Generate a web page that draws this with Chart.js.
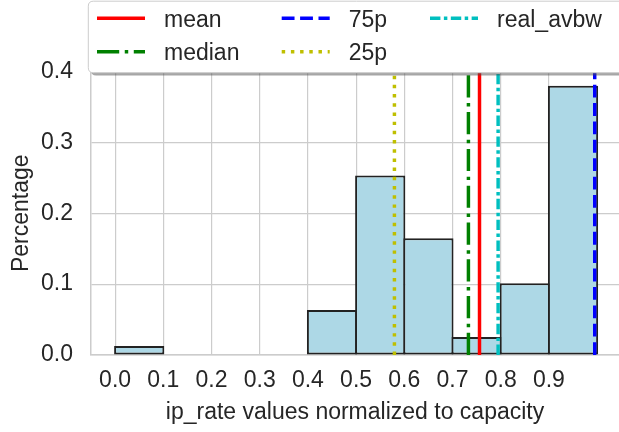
<!DOCTYPE html>
<html>
<head>
<meta charset="utf-8">
<script src="https://cdn.jsdelivr.net/npm/chart.js@4/dist/chart.umd.min.js"></script>
<style>
  html, body { margin: 0; padding: 0; background: #ffffff; }
  canvas { display: block; }
</style>
</head>
<body>
<canvas id="hist" width="619" height="432"></canvas>
<script>
// Histogram of ip_rate normalized to capacity (share of samples per bin)
const binEdges = [0.0, 0.1, 0.2, 0.3, 0.4, 0.5, 0.6, 0.7, 0.8, 0.9, 1.0];
const binShares = [0.0127, 0.0, 0.0, 0.0, 0.0633, 0.2532, 0.1646, 0.0253, 0.1013, 0.3797];

// Summary statistics drawn as vertical reference lines
const markerNames = ['mean', 'median', '75p', '25p', 'real_avbw'];
const markerValues = [0.756, 0.733, 0.995, 0.5795, 0.7946];

// Axis ticks
const xTickValues = [0.0, 0.1, 0.2, 0.3, 0.4, 0.5, 0.6, 0.7, 0.8, 0.9];
const yTickValues = [0.0, 0.1, 0.2, 0.3, 0.4];

// ---- styling ----
const LW = 3.47;
const markerStyle = {
  mean:      { color: '#ff0000', dash: [] },
  median:    { color: '#008000', dash: [6.4 * LW, 1.6 * LW, 1 * LW, 1.6 * LW] },
  '75p':     { color: '#0000ff', dash: [3.7 * LW, 1.6 * LW] },
  '25p':     { color: '#bfbf00', dash: [1 * LW, 1.65 * LW] },
  real_avbw: { color: '#00bfbf', dash: [3 * LW, 1 * LW, 1 * LW, 1 * LW] }
};
const TEXT = '#262626';
const GRID = '#cccccc';
const FONT = { family: '"Liberation Sans", Arial, Helvetica, sans-serif', size: 23 };

const Y_TOP = 0.4;

const barData = binShares.map((v, i) => ({ x: (binEdges[i] + binEdges[i + 1]) / 2, y: v }));

const lineSets = markerNames.map((name, i) => ({
  type: 'line',
  label: name,
  data: [{ x: markerValues[i], y: 0 }, { x: markerValues[i], y: Y_TOP }],
  borderColor: markerStyle[name].color,
  borderDash: markerStyle[name].dash,
  borderWidth: LW,
  borderCapStyle: 'butt',
  pointRadius: 0,
  fill: false,
  tension: 0,
  order: 1
}));

// Legend laid out column-major in a rounded, shadowed box
const boxLegend = {
  id: 'boxLegend',
  afterDraw(chart, args, opts) {
    const ctx = chart.ctx;
    const items = chart.data.datasets.filter(d => d.type === 'line');
    const { x, y, w, h, r } = opts.box;
    const rr = (ox, oy) => {
      ctx.beginPath();
      ctx.moveTo(ox + r, oy);
      ctx.lineTo(ox + w - r, oy);
      ctx.quadraticCurveTo(ox + w, oy, ox + w, oy + r);
      ctx.lineTo(ox + w, oy + h - r);
      ctx.quadraticCurveTo(ox + w, oy + h, ox + w - r, oy + h);
      ctx.lineTo(ox + r, oy + h);
      ctx.quadraticCurveTo(ox, oy + h, ox, oy + h - r);
      ctx.lineTo(ox, oy + r);
      ctx.quadraticCurveTo(ox, oy, ox + r, oy);
      ctx.closePath();
    };
    ctx.save();
    rr(x + opts.shadow, y + opts.shadow);
    ctx.fillStyle = 'rgba(77,77,77,0.5)';
    ctx.fill();
    rr(x, y);
    ctx.fillStyle = '#ffffff';
    ctx.fill();
    ctx.lineWidth = 1;
    ctx.strokeStyle = GRID;
    ctx.stroke();

    ctx.font = `${FONT.size}px ${FONT.family}`;
    ctx.textAlign = 'left';
    ctx.textBaseline = 'alphabetic';
    items.forEach((d, i) => {
      const col = Math.floor(i / opts.rows);
      const row = i % opts.rows;
      const hx = opts.colX[col];
      const ly = opts.rowLineY[row];
      ctx.beginPath();
      ctx.setLineDash(d.borderDash || []);
      ctx.lineDashOffset = 0;
      ctx.lineCap = 'butt';
      ctx.lineWidth = d.borderWidth;
      ctx.strokeStyle = d.borderColor;
      ctx.moveTo(hx, ly);
      ctx.lineTo(hx + opts.handle, ly);
      ctx.stroke();
      ctx.setLineDash([]);
      ctx.fillStyle = TEXT;
      ctx.fillText(d.label, hx + opts.textGap, opts.rowTextY[row]);
    });
    ctx.restore();
  }
};

new Chart(document.getElementById('hist'), {
  type: 'bar',
  data: {
    datasets: [
      ...lineSets,
      {
        type: 'bar',
        label: 'ip_rate',
        data: barData,
        backgroundColor: '#add8e6',
        borderColor: '#222222',
        borderWidth: 2,
        borderSkipped: false,
        categoryPercentage: 1.0,
        barPercentage: 1.0415,
        order: 2
      }
    ]
  },
  options: {
    responsive: false,
    animation: false,
    events: [],
    layout: { padding: { top: 71.4, right: 0, bottom: 0, left: 0 } },
    plugins: {
      legend: { display: false },
      tooltip: { enabled: false },
      boxLegend: {
        box: { x: 88.3, y: 1.2, w: 600, h: 71.5, r: 5 },
        shadow: 2.8,
        rows: 2,
        colX: [97, 281.7, 430],
        rowLineY: [18.3, 51.7],
        rowTextY: [26.7, 60],
        handle: 48,
        textGap: 67
      }
    },
    scales: {
      x: {
        type: 'linear',
        min: -0.05,
        max: 1.0454,
        offset: false,
        afterBuildTicks: s => { s.ticks = xTickValues.map(v => ({ value: v })); },
        afterFit: s => { s.height = 77; },
        grid: { color: GRID, lineWidth: 1.2, drawTicks: false, offset: false },
        border: { display: true, color: GRID, width: 1.5 },
        ticks: {
          color: TEXT, font: FONT, padding: 12, maxRotation: 0, autoSkip: false,
          callback: v => Number(v).toFixed(1)
        },
        title: {
          display: true, text: 'ip_rate values normalized to capacity',
          color: TEXT, font: FONT, padding: { top: 1, bottom: 6 }
        }
      },
      y: {
        type: 'linear',
        min: 0,
        max: Y_TOP,
        afterBuildTicks: s => { s.ticks = yTickValues.map(v => ({ value: v })); },
        afterFit: s => { s.width = 91; },
        grid: { color: GRID, lineWidth: 1.2, drawTicks: false },
        border: { display: true, color: GRID, width: 1.5 },
        ticks: {
          color: TEXT, font: FONT, padding: 18,
          callback: v => Number(v).toFixed(1)
        },
        title: {
          display: true, text: 'Percentage',
          color: TEXT, font: FONT, padding: { top: 8, bottom: 0 }
        }
      }
    }
  },
  plugins: [boxLegend]
});
</script>
</body>
</html>
